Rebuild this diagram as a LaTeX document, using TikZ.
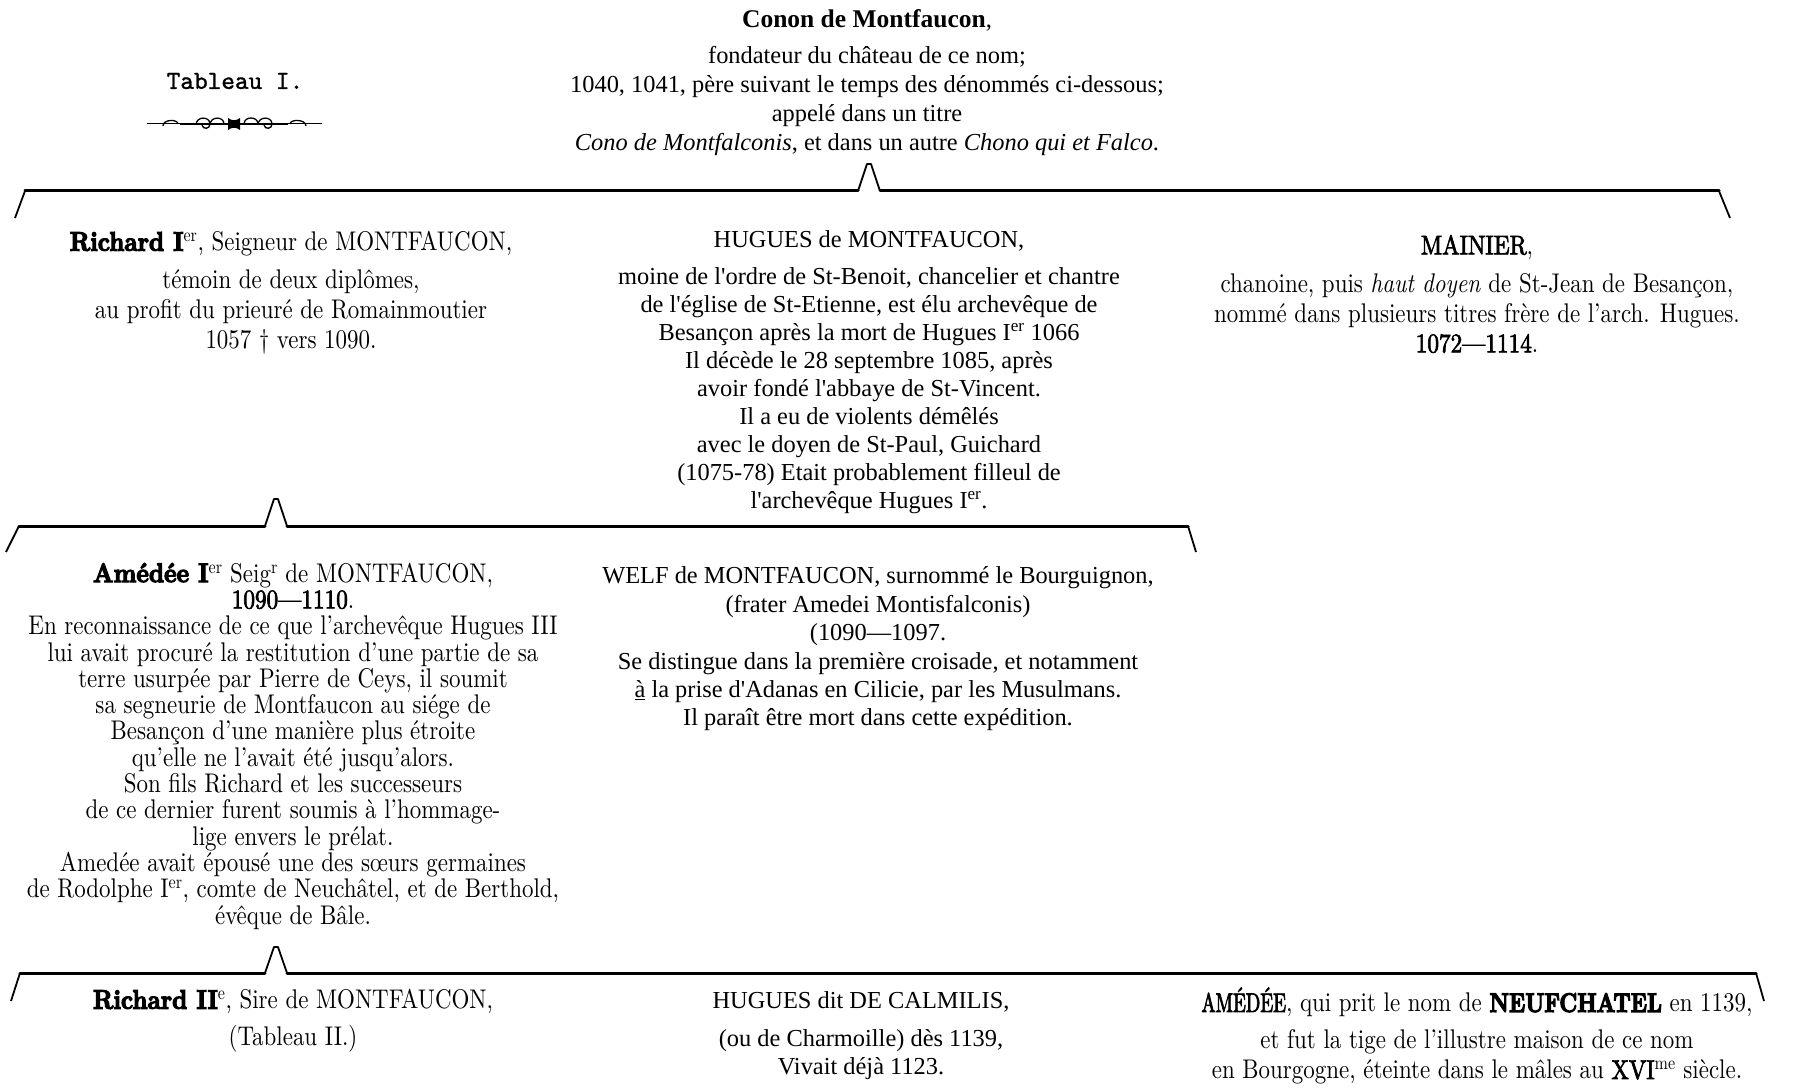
\documentclass[tikz,border=0pt]{standalone}
\usepackage{fontspec}
\newfontfamily\tnr{Liberation Serif}[Ligatures=TeXOff]
\newfontfamily\cond{lmroman10}[Extension=.otf, UprightFont=*-regular, ItalicFont=*-italic, BoldFont=*-bold, FakeStretch=0.85]
\newfontfamily\condb{lmroman10}[Extension=.otf, UprightFont=*-regular, FakeStretch=0.86, FakeBold=2.5]
\newfontfamily\condbn{lmroman10}[Extension=.otf, UprightFont=*-regular, FakeStretch=0.7, FakeBold=2.5]
\newfontfamily\heavy{lmroman10}[Extension=.otf, UprightFont=*-bold, FakeStretch=0.88, FakeBold=4]
\newfontfamily\heavyn{lmroman10}[Extension=.otf, UprightFont=*-bold, FakeStretch=0.8, FakeBold=4]
\newfontfamily\tabfont{lmmono10}[Extension=.otf, UprightFont=*-regular, FakeBold=1.2]
\begin{document}
\begin{tikzpicture}[x=1pt,y=-1pt,
  bar/.style={line width=3pt, line cap=round},
  peak/.style={line width=1.8pt, line join=round},
  tick/.style={line width=1.8pt},
  tnrtext/.style={align=center, inner sep=0pt, font=\tnr\fontsize{24.4}{28}\selectfont},
  condtext/.style={align=center, inner sep=0pt, font=\cond\fontsize{27}{30}\selectfont}]
\useasboundingbox (0,0) rectangle (1800,1091);

% Heading
\node[font=\tabfont\fontsize{26}{30}\selectfont, inner sep=0pt] (tableau) at (235,81) {Tableau I.};
\coordinate (ornL) at (147,124);
\coordinate (ornR) at (322,124);
\draw[line width=1pt] (ornL) -- (ornR);
\begin{scope}[line width=1.3pt]
  \draw (163,126) .. controls (163,119) and (178,119) .. (178,124);
  \draw (196,125) .. controls (196,116) and (210,116) .. (210,124) .. controls (210,129) and (203,130) .. (202,125);
  \draw (210,125) .. controls (210,116) and (224,116) .. (224,124);
  \draw (244,124) .. controls (244,116) and (258,116) .. (258,124);
  \draw (258,125) .. controls (258,116) and (272,116) .. (272,124) .. controls (272,129) and (265,130) .. (264,125);
  \draw (290,124) .. controls (290,119) and (306,119) .. (306,126);
  \fill (228,118) .. controls (232,121) and (236,121) .. (240,118) -- (240,130) .. controls (236,127) and (232,127) .. (228,130) -- cycle;
  \draw[line width=2.4pt] (180,124) -- (228,124) (240,124) -- (288,124);
\end{scope}

\node[tnrtext, font=\tnr\fontsize{24.4}{29}\selectfont] (conon) at (867,83)
 {{\fontsize{25.5}{29}\selectfont\textbf{Conon de Montfaucon}},\\[7pt]
  fondateur du château de ce nom;\\
  1040, 1041, père suivant le temps des dénommés ci-dessous;\\
  appelé dans un titre\\
  \textit{Cono de Montfalconis}, et dans un autre \textit{Chono qui et Falco}.};

% Bracket 1
\coordinate (b1a) at (15,218);
\coordinate (b1b) at (25,191);
\coordinate (b1p1) at (858,191);
\coordinate (b1p2) at (867,164);
\coordinate (b1p3) at (871,164);
\coordinate (b1p4) at (880,191);
\coordinate (b1c) at (1719,191);
\coordinate (b1d) at (1730,218);
\draw[tick] (b1a) -- (b1b);
\draw[bar] (b1b) -- (b1p1) (b1p4) -- (b1c);
\draw[peak] (b1p1) -- (b1p2) -- (b1p3) -- (b1p4);
\draw[tick] (b1c) -- (b1d);

% Generation 2
\node[condtext] (richardI) at (291,293)
 {{\heavy Richard I}\textsuperscript{er}, Seigneur de MONTFAUCON,\\[8pt]
  témoin de deux diplômes,\\
  au profit du prieuré de Romainmoutier\\
  1057 † vers 1090.};

\node[tnrtext] (hugues) at (869,372)
 {HUGUES de MONTFAUCON,\\[9pt]
  moine de l'ordre de St-Benoit, chancelier et chantre\\
  de l'église de St-Etienne, est élu archevêque de\\
  Besançon après la mort de Hugues I\textsuperscript{er} 1066\\
  Il décède le 28 septembre 1085, après\\
  avoir fondé l'abbaye de St-Vincent.\\
  Il a eu de violents démêlés\\
  avec le doyen de St-Paul, Guichard\\
  (1075-78) Etait probablement filleul de\\
  l'archevêque Hugues I\textsuperscript{er}.};

\node[condtext] (mainier) at (1477,294)
 {{\condb MAINIER},\\[8pt]
  chanoine, puis \textit{haut doyen} de St-Jean de Besançon,\\
  nommé dans plusieurs titres frère de l’arch. Hugues.\\
  {\condb 1072—1114}.};

% Bracket 2
\coordinate (b2a) at (6,552);
\coordinate (b2b) at (19,526);
\coordinate (b2p1) at (265,526);
\coordinate (b2p2) at (274,499);
\coordinate (b2p3) at (278,499);
\coordinate (b2p4) at (287,526);
\coordinate (b2c) at (1188,526);
\coordinate (b2d) at (1196,552);
\draw[tick] (b2a) -- (b2b);
\draw[bar] (b2b) -- (b2p1) (b2p4) -- (b2c);
\draw[peak] (b2p1) -- (b2p2) -- (b2p3) -- (b2p4);
\draw[tick] (b2c) -- (b2d);

% Generation 3
\node[condtext, font=\cond\fontsize{27}{26.3}\selectfont] (amedee) at (293,746)
 {{\heavy Amédée I}\textsuperscript{er} Seig\textsuperscript{r} de MONTFAUCON,\\
  {\condb 1090—1110}.\\
  En reconnaissance de ce que l’archevêque Hugues III\\
  lui avait procuré la restitution d’une partie de sa\\
  terre usurpée par Pierre de Ceys, il soumit\\
  sa segneurie de Montfaucon au siége de\\
  Besançon d’une manière plus étroite\\
  qu’elle ne l’avait été jusqu’alors.\\
  Son fils Richard et les successeurs\\
  de ce dernier furent soumis à l’hommage-\\
  lige envers le prélat.\\
  Amedée avait épousé une des sœurs germaines\\
  de Rodolphe I\textsuperscript{er}, comte de Neuchâtel, et de Berthold,\\
  évêque de Bâle.};

\node[tnrtext, font=\tnr\fontsize{24.4}{28.4}\selectfont] (welf) at (878,649)
 {WELF de MONTFAUCON, surnommé le Bourguignon,\\
  (frater Amedei Montisfalconis)\\
  (1090—1097.\\
  Se distingue dans la première croisade, et notamment\\
  \underline{à} la prise d'Adanas en Cilicie, par les Musulmans.\\
  Il paraît être mort dans cette expédition.};

% Bracket 3
\coordinate (b3a) at (11,1001);
\coordinate (b3b) at (20,973);
\coordinate (b3p1) at (265,973);
\coordinate (b3p2) at (274,947);
\coordinate (b3p3) at (278,947);
\coordinate (b3p4) at (287,973);
\coordinate (b3c) at (1756,973);
\coordinate (b3d) at (1764,1001);
\draw[tick] (b3a) -- (b3b);
\draw[bar] (b3b) -- (b3p1) (b3p4) -- (b3c);
\draw[peak] (b3p1) -- (b3p2) -- (b3p3) -- (b3p4);
\draw[tick] (b3c) -- (b3d);

% Generation 4
\node[condtext] (richardII) at (293,1021)
 {{\heavy Richard II}\textsuperscript{e}, Sire de MONTFAUCON,\\[7pt]
  (Tableau II.)};

\node[tnrtext] (calmilis) at (861,1036)
 {HUGUES dit DE CALMILIS,\\[10pt]
  (ou de Charmoille) dès 1139,\\
  Vivait déjà 1123.};

\node[condtext] (amedeeN) at (1477,1036)
 {{\condbn AMÉDÉE}, qui prit le nom de {\heavyn NEUFCHATEL} en 1139,\\[7pt]
  et fut la tige de l’illustre maison de ce nom\\
  en Bourgogne, éteinte dans le mâles au {\condb XVI}\textsuperscript{me} siècle.};
\end{tikzpicture}
\end{document}
